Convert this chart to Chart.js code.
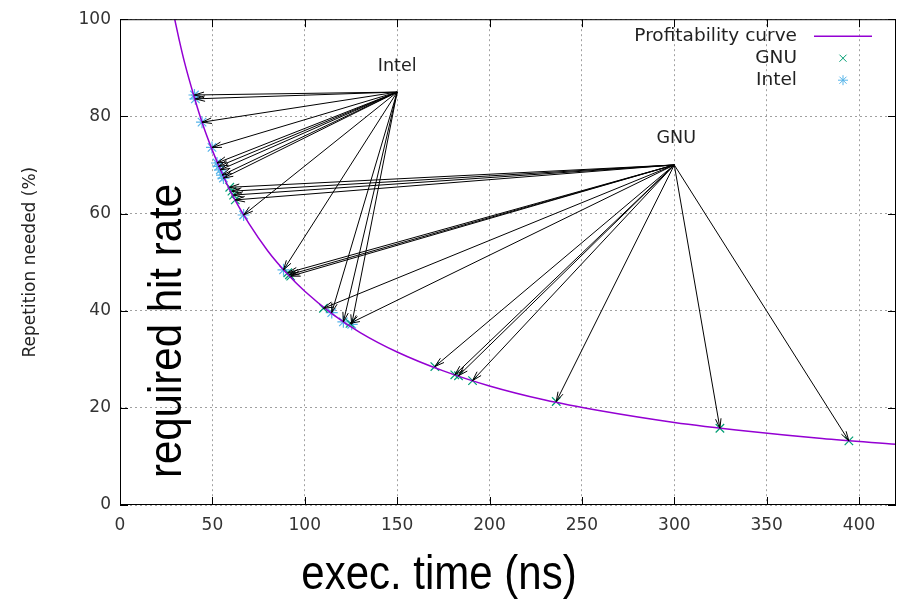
<!DOCTYPE html>
<html>
<head>
<meta charset="utf-8">
<script src="https://cdn.jsdelivr.net/npm/chart.js"></script>
<style>
  html, body { margin: 0; padding: 0; background: #fff; }
</style>
</head>
<body>
<canvas id="chart" width="904" height="606"></canvas>
<script>
// Profitability curve
const curveX = [28, 30, 32, 35, 40, 45, 50, 55, 60, 70, 80, 90, 100, 115, 130, 150, 175, 200, 230, 260, 300, 340, 380, 420];
const curveY = [103.0, 99.3, 95.8, 91.0, 84.2, 78.1, 73.0, 68.5, 64.4, 57.8, 52.3, 47.8, 44.0, 39.3, 35.5, 31.5, 27.6, 24.5, 21.6, 19.4, 17.0, 15.2, 13.7, 12.5];

// GNU measurements (green x)
const gnuX = [59.4, 60.6, 61.5, 62.4, 90.8, 91.7, 92.4, 110.1, 124.5, 170.4, 181.2, 183.2, 190.8, 236.1, 324.7, 394.5];
const gnuY = [65.4, 64.6, 63.8, 62.8, 47.8, 47.4, 47.1, 40.5, 37.4, 28.5, 26.8, 26.6, 25.6, 21.3, 15.8, 13.2];

// Intel measurements (blue *)
const intelX = [40.3, 40.8, 44.4, 49.8, 52.5, 53.4, 54.3, 55.2, 56.0, 66.9, 88.5, 114.6, 120.9, 125.4];
const intelY = [84.4, 83.6, 78.8, 73.6, 70.4, 69.7, 69.0, 67.9, 67.3, 59.7, 48.4, 39.6, 37.7, 37.2];

// where the arrows start (label anchors)
const intelOrigin = [150, 85];
const gnuOrigin = [300, 70];

const xTicks = [0, 50, 100, 150, 200, 250, 300, 350, 400];
const yTicks = [0, 20, 40, 60, 80, 100];

const GNU_COLOR = '#009e73';
const INTEL_COLOR = '#56b4e9';
const CURVE_COLOR = '#9400d3';
const TEXT_FONT = 'DejaVu Sans';

const toPoints = (xs, ys) => xs.map((x, i) => ({ x: x, y: ys[i] }));

function drawArrow(ctx, x0, y0, x1, y1) {
    const ang = Math.atan2(y1 - y0, x1 - x0);
    const len = 10, spread = 0.28;
    ctx.beginPath();
    ctx.moveTo(x0, y0);
    ctx.lineTo(x1, y1);
    ctx.moveTo(x1 - len * Math.cos(ang - spread), y1 - len * Math.sin(ang - spread));
    ctx.lineTo(x1, y1);
    ctx.lineTo(x1 - len * Math.cos(ang + spread), y1 - len * Math.sin(ang + spread));
    ctx.stroke();
}

const overlay = {
    id: 'overlay',
    afterDatasetsDraw(chart) {
        const { ctx, chartArea: a, scales: { x, y } } = chart;
        ctx.save();

        // arrows from the labels to each measurement
        ctx.strokeStyle = '#000';
        ctx.lineWidth = 1;
        const groups = [[intelOrigin, intelX, intelY], [gnuOrigin, gnuX, gnuY]];
        groups.forEach(([o, xs, ys]) => {
            const ox = x.getPixelForValue(o[0]), oy = y.getPixelForValue(o[1]);
            xs.forEach((v, i) => drawArrow(ctx, ox, oy, x.getPixelForValue(v), y.getPixelForValue(ys[i])));
        });

        // frame + inward ticks on all four sides
        ctx.lineWidth = 1;
        ctx.strokeStyle = '#000';
        ctx.strokeRect(a.left + 0.5, a.top + 0.5, a.right - a.left - 1, a.bottom - a.top - 1);
        ctx.beginPath();
        xTicks.forEach(v => {
            const px = Math.round(x.getPixelForValue(v)) + 0.5;
            ctx.moveTo(px, a.bottom); ctx.lineTo(px, a.bottom - 8);
            ctx.moveTo(px, a.top); ctx.lineTo(px, a.top + 8);
        });
        yTicks.forEach(v => {
            const py = Math.round(y.getPixelForValue(v)) + 0.5;
            ctx.moveTo(a.left, py); ctx.lineTo(a.left + 8, py);
            ctx.moveTo(a.right, py); ctx.lineTo(a.right - 8, py);
        });
        ctx.stroke();

        // Intel / GNU labels above the arrow origins
        ctx.fillStyle = '#222';
        ctx.font = '17.5px "' + TEXT_FONT + '"';
        ctx.textAlign = 'center';
        ctx.textBaseline = 'middle';
        ctx.fillText('Intel', x.getPixelForValue(intelOrigin[0]), y.getPixelForValue(intelOrigin[1]) - 26);
        ctx.fillText('GNU', x.getPixelForValue(gnuOrigin[0]) + 2, y.getPixelForValue(gnuOrigin[1]) - 26);

        // key, gnuplot style: text right aligned, sample on the right
        const keyText = a.right - 99, keySample = a.right - 53;
        const rows = [
            { text: 'Profitability curve', y: a.top + 17 },
            { text: 'GNU', y: a.top + 39, style: 'crossRot', color: GNU_COLOR },
            { text: 'Intel', y: a.top + 61, style: 'star', color: INTEL_COLOR }
        ];
        ctx.font = '18.5px "' + TEXT_FONT + '"';
        ctx.textAlign = 'right';
        rows.forEach(r => {
            ctx.fillStyle = '#222';
            ctx.fillText(r.text, keyText, r.y);
            if (!r.style) {
                ctx.strokeStyle = CURVE_COLOR;
                ctx.lineWidth = 1.5;
                ctx.beginPath();
                ctx.moveTo(keySample - 29, r.y); ctx.lineTo(keySample + 29, r.y);
                ctx.stroke();
            } else {
                ctx.strokeStyle = r.color;
                ctx.lineWidth = 1;
                Chart.helpers.drawPoint(ctx, { pointStyle: r.style, radius: 5, rotation: 0, borderWidth: 1 }, keySample, r.y);
            }
        });

        // big annotations, a little taller than the plain font
        ctx.fillStyle = '#000';
        ctx.font = '42px "Liberation Sans"';
        ctx.textAlign = 'center';
        ctx.textBaseline = 'alphabetic';
        ctx.save();
        ctx.translate(439, 589);
        ctx.scale(1, 1.14);
        ctx.fillText('exec. time (ns)', 0, 0);
        ctx.restore();

        ctx.translate(181, 331);
        ctx.rotate(-Math.PI / 2);
        ctx.scale(1, 1.12);
        ctx.fillText('required hit rate', 0, 0);
        ctx.restore();
    }
};

new Chart(document.getElementById('chart'), {
    type: 'scatter',
    data: {
        datasets: [
            {
                label: 'Profitability curve',
                type: 'line',
                data: toPoints(curveX, curveY),
                borderColor: CURVE_COLOR,
                borderWidth: 1.5,
                pointRadius: 0,
                fill: false,
                cubicInterpolationMode: 'monotone'
            },
            {
                label: 'GNU',
                data: toPoints(gnuX, gnuY),
                pointStyle: 'crossRot',
                pointRadius: 6,
                borderColor: GNU_COLOR,
                borderWidth: 1.2
            },
            {
                label: 'Intel',
                data: toPoints(intelX, intelY),
                pointStyle: 'star',
                pointRadius: 6,
                borderColor: INTEL_COLOR,
                borderWidth: 1.2
            }
        ]
    },
    options: {
        responsive: false,
        animation: false,
        layout: { padding: { top: 19, right: 8, left: 0, bottom: 0 } },
        plugins: {
            legend: { display: false },
            tooltip: { enabled: false }
        },
        scales: {
            x: {
                type: 'linear',
                min: 0,
                max: 420,
                afterBuildTicks: s => { s.ticks = xTicks.map(v => ({ value: v })); },
                afterFit: s => { s.height = 101; },
                grid: { color: '#a0a0a0', lineWidth: 1, drawTicks: false },
                border: { display: false, dash: [2, 3] },
                ticks: {
                    font: { family: TEXT_FONT, size: 17 },
                    color: '#333',
                    padding: 10,
                    maxRotation: 0,
                    autoSkip: false
                }
            },
            y: {
                type: 'linear',
                min: 0,
                max: 100,
                afterBuildTicks: s => { s.ticks = yTicks.map(v => ({ value: v })); },
                afterFit: s => { s.width = 120; },
                grid: { color: '#a0a0a0', lineWidth: 1, drawTicks: false },
                border: { display: false, dash: [2, 3] },
                ticks: {
                    font: { family: TEXT_FONT, size: 17 },
                    color: '#333',
                    padding: 9
                },
                title: {
                    display: true,
                    text: 'Repetition needed (%)',
                    font: { family: TEXT_FONT, size: 17 },
                    color: '#222',
                    padding: { top: 20, bottom: 0 }
                }
            }
        }
    },
    plugins: [overlay]
});
</script>
</body>
</html>
